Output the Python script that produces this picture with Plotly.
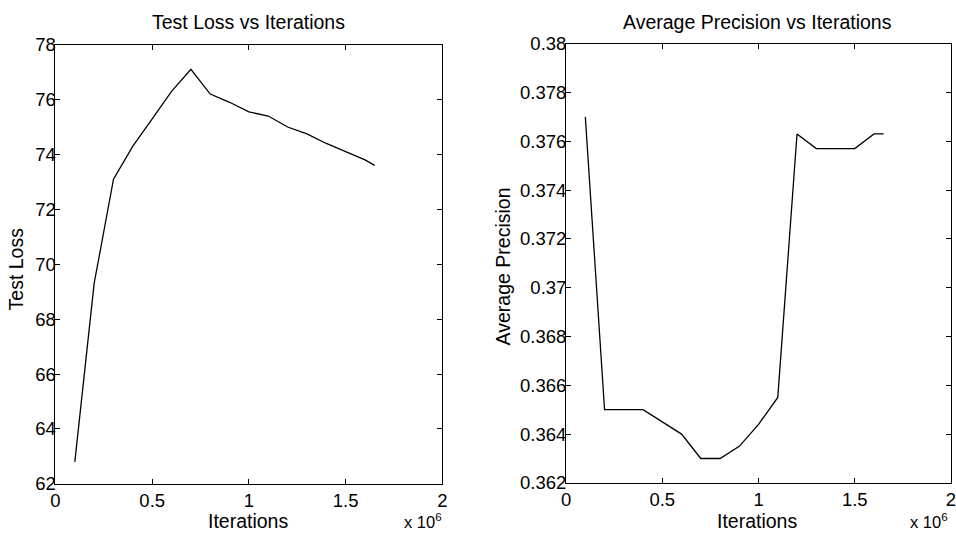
import plotly.graph_objects as go

# Training curves sampled every 100k iterations
iters_loss = [100000, 200000, 300000, 400000, 500000, 600000, 700000, 800000,
              900000, 1000000, 1100000, 1200000, 1300000, 1400000, 1500000,
              1600000, 1650000]
test_loss = [62.8, 69.3, 73.1, 74.3, 75.3, 76.3, 77.1, 76.2, 75.9, 75.55,
             75.4, 75.0, 74.75, 74.4, 74.1, 73.8, 73.6]

iters_ap = [100000, 200000, 300000, 400000, 500000, 600000, 700000, 800000,
            900000, 1000000, 1100000, 1200000, 1300000, 1400000, 1500000,
            1600000, 1650000]
avg_precision = [0.3770, 0.3650, 0.3650, 0.3650, 0.3645, 0.3640, 0.3630,
                 0.3630, 0.3635, 0.3644, 0.3655, 0.3763, 0.3757, 0.3757,
                 0.3757, 0.3763, 0.3763]

x_tickvals = [0, 500000, 1000000, 1500000, 2000000]
x_ticktext = ["0", "0.5", "1", "1.5", "2"]
loss_ticks = [62, 64, 66, 68, 70, 72, 74, 76, 78]
ap_ticks = [0.362, 0.364, 0.366, 0.368, 0.370, 0.372, 0.374, 0.376, 0.378, 0.380]
ap_ticktext = ["0.362", "0.364", "0.366", "0.368", "0.37", "0.372", "0.374",
               "0.376", "0.378", "0.38"]

FONT = "Liberation Sans, Arial, sans-serif"
W, H = 956, 540

# figure-pixel boxes of the two axes (x0, x1, top, bottom)
lx0, lx1, ly0, ly1 = 51, 442, 35, 492
rx0, rx1, ry0, ry1 = 567, 956, 34, 491


def px(x):
    return min(max(x / W, 0.0), 1.0)


def py(y):
    return min(max(1 - y / H, 0.0), 1.0)


fig = go.Figure()
fig.add_trace(go.Scatter(x=iters_loss, y=test_loss, mode="lines",
                         line=dict(color="black", width=1.3),
                         xaxis="x", yaxis="y", showlegend=False))
fig.add_trace(go.Scatter(x=iters_ap, y=avg_precision, mode="lines",
                         line=dict(color="black", width=1.3),
                         xaxis="x2", yaxis="y2", showlegend=False))

axis_common = dict(showline=True, linecolor="black", linewidth=1,
                   mirror="ticks", ticks="inside", ticklen=5, tickwidth=1,
                   tickcolor="black", showgrid=False, zeroline=False,
                   ticklabeloverflow="allow",
                   tickfont=dict(family=FONT, size=18.5, color="black"))
x_extra = dict(ticklabelstandoff=0)
y_extra = dict(ticklabelstandoff=-5)

fig.update_layout(
    width=W, height=H,
    margin=dict(l=0, r=0, t=0, b=0),
    paper_bgcolor="white", plot_bgcolor="white",
    xaxis=dict(domain=[px(lx0), px(lx1)], anchor="y", range=[0, 2000000],
               tickvals=x_tickvals, ticktext=x_ticktext, **axis_common, **x_extra),
    yaxis=dict(domain=[py(ly1), py(ly0)], anchor="x", range=[62, 78],
               tickvals=loss_ticks, **axis_common, **y_extra),
    xaxis2=dict(domain=[px(rx0), px(rx1)], anchor="y2", range=[0, 2000000],
                tickvals=x_tickvals, ticktext=x_ticktext, **axis_common, **x_extra),
    yaxis2=dict(domain=[py(ry1), py(ry0)], anchor="x2",
                range=[0.362, 0.380], tickvals=ap_ticks, ticktext=ap_ticktext,
                **axis_common, **y_extra),
)


def label(text, x, y, size=19.5, angle=0, xanchor="center", yanchor="middle"):
    fig.add_annotation(text=text, x=px(x), y=py(y), xref="paper",
                       yref="paper", showarrow=False, textangle=angle,
                       xanchor=xanchor, yanchor=yanchor, borderpad=0,
                       font=dict(family=FONT, size=size, color="black"))


label("Test Loss vs Iterations", 246, 11)
label("Average Precision vs Iterations", 760, 11)
label("Iterations", 246, 531)
label("Iterations", 760, 531)
label("Test Loss", 11, 268, angle=-90)
label("Average Precision", 503, 266, angle=-90)
label("x 10<sup>6</sup>", 422, 531, size=16.5)
label("x 10<sup>6</sup>", 934, 531, size=16.5)

fig.write_html("out.html")
